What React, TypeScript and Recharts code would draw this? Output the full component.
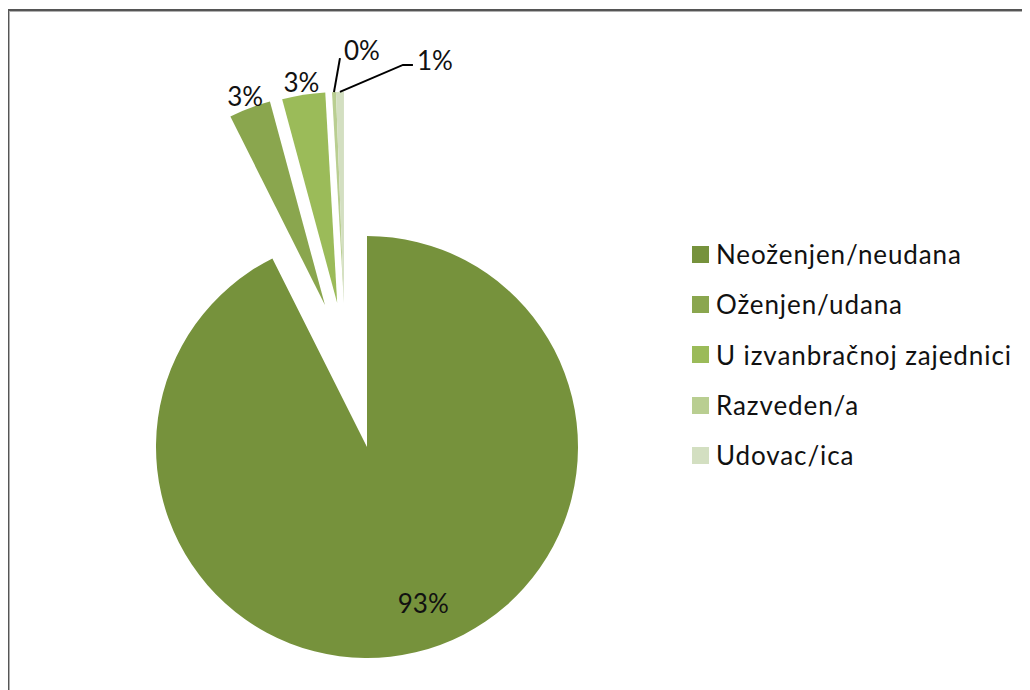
import React from 'react';
import { PieChart, Pie, Cell, Sector, Legend } from 'recharts';

const categories = ['Neoženjen/neudana', 'Oženjen/udana', 'U izvanbračnoj zajednici', 'Razveden/a', 'Udovac/ica'];
const values = [92.6, 3.2, 3.3, 0.3, 0.6];
const colors = ['#76923C', '#8AA64E', '#9BBB59', '#B9CE91', '#D3DFC1'];

// explosion (distance in px, direction in degrees, recharts convention)
const explodeDistance = [0, 148, 147, 146, 146];
const explodeDirection = [90, 106.5, 101.7, 99.1, 99.1];

const data = categories.map((name, i) => ({ name, value: values[i] }));

const RAD = Math.PI / 180;
const FONT = 'Lato, "Open Sans", sans-serif';

function explodeOffset(i: number) {
  const d = explodeDistance[i] || 0;
  const a = explodeDirection[i] || 0;
  return { dx: d * Math.cos(a * RAD), dy: -d * Math.sin(a * RAD) };
}

function indexOfName(props: any): number {
  const n = props?.payload?.name ?? props?.name;
  const i = categories.indexOf(n);
  return i >= 0 ? i : props?.index ?? 0;
}

const renderShape = (props: any) => {
  const i = indexOfName(props);
  const { dx, dy } = explodeOffset(i);
  return (
    <Sector
      cx={props.cx + dx}
      cy={props.cy + dy}
      innerRadius={props.innerRadius}
      outerRadius={props.outerRadius}
      startAngle={props.startAngle}
      endAngle={props.endAngle}
      fill={props.fill}
      stroke="none"
    />
  );
};

const renderLabel = (props: any) => {
  const { cx, cy, midAngle, outerRadius, percent } = props;
  const i = indexOfName(props);
  const text = `${Math.round(percent * 100)}%`;
  const style = { fontFamily: FONT, fontSize: 26, fill: '#111' } as const;
  if (i === 0) {
    const a = (midAngle + 6.5) * RAD;
    const r = outerRadius * 0.786;
    return (
      <text x={cx + r * Math.cos(a)} y={cy - r * Math.sin(a)} textAnchor="middle" dominantBaseline="central" style={style}>
        {text}
      </text>
    );
  }
  const { dx, dy } = explodeOffset(i);
  const m = midAngle * RAD;
  const ox = cx + dx + outerRadius * Math.cos(m);
  const oy = cy + dy - outerRadius * Math.sin(m);
  if (i === 3) {
    return (
      <g>
        <polyline points={`${ox},${oy} ${ox + 6},${oy - 34}`} stroke="#000" strokeWidth={2} fill="none" />
        <text x={ox + 10} y={oy - 42} textAnchor="start" dominantBaseline="central" style={style}>{text}</text>
      </g>
    );
  }
  if (i === 4) {
    return (
      <g>
        <polyline points={`${ox},${oy} ${ox + 63},${oy - 27} ${ox + 73},${oy - 27}`} stroke="#000" strokeWidth={2} fill="none" />
        <text x={ox + 77} y={oy - 32} textAnchor="start" dominantBaseline="central" style={style}>{text}</text>
      </g>
    );
  }
  const lx = ox + 13 * Math.cos(m);
  const ly = oy - 13 * Math.sin(m);
  return (
    <text x={lx} y={ly} textAnchor="middle" dominantBaseline="central" style={style}>{text}</text>
  );
};

const renderLegend = () => (
  <div style={{ fontFamily: FONT }}>
    {categories.map((c, i) => (
      <div key={c} style={{ display: 'flex', alignItems: 'center', height: 50.3 }}>
        <div style={{ width: 17, height: 17, background: colors[i], marginRight: 7 }} />
        <span style={{ fontSize: 26, color: '#111', lineHeight: '30px', letterSpacing: 0.9 }}>{c}</span>
      </div>
    ))}
  </div>
);

export default function App() {
  return (
    <div style={{ position: 'relative', width: 1022, height: 682, overflow: 'hidden', background: '#fff' }}>
      <div
        style={{
          position: 'absolute',
          left: -1,
          top: 1,
          width: 1040,
          height: 700,
          border: '2px solid #555',
          boxShadow: 'inset 0 0 0 1px #b0b0b0',
          boxSizing: 'border-box',
        }}
      />
      <div style={{ position: 'absolute', left: 0, top: 0 }}>
        <PieChart width={1022} height={682}>
          <Pie
            data={data}
            dataKey="value"
            nameKey="name"
            cx={354}
            cy={434}
            outerRadius={211}
            startAngle={90}
            endAngle={-270}
            stroke="none"
            isAnimationActive={false}
            shape={renderShape}
            activeShape={renderShape}
            inactiveShape={renderShape}
            label={renderLabel}
            labelLine={false}
          >
            {data.map((d, i) => (
              <Cell key={d.name} fill={colors[i]} />
            ))}
          </Pie>
          <Legend
            layout="vertical"
            content={renderLegend}
            wrapperStyle={{ position: 'absolute', left: 684, top: 221, width: 335, bottom: 'auto', right: 'auto' }}
          />
        </PieChart>
      </div>
    </div>
  );
}
